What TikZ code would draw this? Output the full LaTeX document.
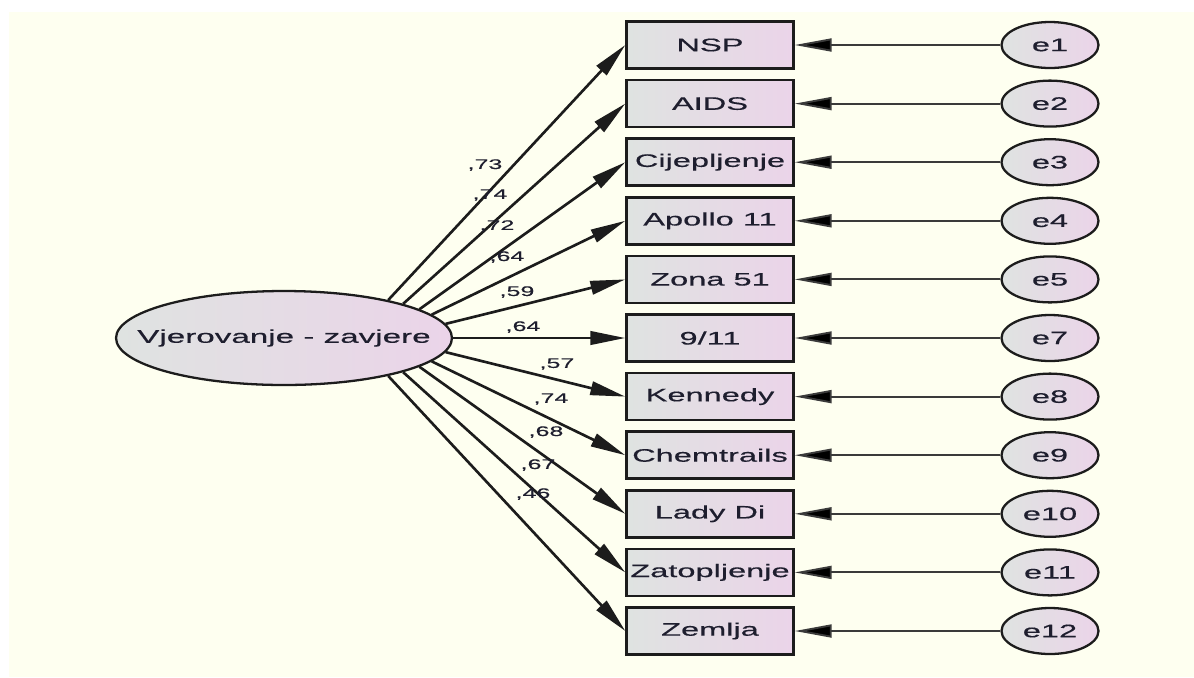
\documentclass[tikz,border=0pt]{standalone}
\usepackage{fontspec}
\setmainfont{Liberation Sans}
\newfontfamily\widefont[FakeStretch=1.8,FakeBold=0.4]{Liberation Sans}
\usetikzlibrary{arrows.meta,shapes.geometric}
\definecolor{bgcream}{HTML}{FEFFF0}
\definecolor{fillL}{HTML}{DFE3E1}
\definecolor{fillR}{HTML}{EBD4E9}
\definecolor{edgecol}{HTML}{1C1C1C}
\definecolor{linecol}{HTML}{3A3A3A}
\definecolor{txtcol}{HTML}{1E1E2E}
\begin{document}
\begin{tikzpicture}[x=0.02cm,y=-0.02cm,
  obs/.style={rectangle,draw=edgecol,line width=1.4pt,left color=fillL,right color=fillR,
    minimum width=3.34cm,minimum height=0.94cm,inner sep=0pt,text=txtcol,
    font=\widefont\fontsize{10.3}{12}\selectfont},
  lat/.style={ellipse,draw=edgecol,line width=1.3pt,left color=fillL,right color=fillR,
    minimum width=6.72cm,minimum height=1.88cm,inner sep=0pt,text=txtcol,
    font=\widefont\fontsize{10.5}{12}\selectfont},
  err/.style={ellipse,draw=edgecol,line width=1.3pt,left color=fillL,right color=fillR,
    minimum width=1.94cm,minimum height=0.92cm,inner sep=0pt,text=txtcol,
    font=\widefont\fontsize{10.3}{12}\selectfont},
  load/.style={draw=edgecol,line width=1.5pt,-{Triangle[length=0.7cm,width=0.27cm]}},
  epath/.style={draw=linecol,line width=1.1pt,-{Triangle[length=0.74cm,width=0.26cm,fill=black]}},
  lbl/.style={inner sep=0pt,text=txtcol,font=\widefont\fontsize{7.9}{9}\selectfont}
]
\useasboundingbox (0,0) rectangle (1194,677);
\fill[white] (0,0) rectangle (1194,677);
\fill[bgcream] (9,12) rectangle (1194,677);

\node[lat] (F) at (284,338) {\makebox[0pt]{Vjerovanje - zavjere}};

\node[obs] (b1)  at (710,45)    {NSP};
\node[obs] (b2)  at (710,103.6) {AIDS};
\node[obs] (b3)  at (710,162.2) {Cijepljenje};
\node[obs] (b4)  at (710,220.8) {Apollo 11};
\node[obs] (b5)  at (710,279.4) {Zona 51};
\node[obs] (b6)  at (710,338)   {9/11};
\node[obs] (b7)  at (710,396.6) {Kennedy};
\node[obs] (b8)  at (710,455.2) {Chemtrails};
\node[obs] (b9)  at (710,513.8) {Lady Di};
\node[obs] (b10) at (710,572.4) {\makebox[0pt]{Zatopljenje}};
\node[obs] (b11) at (710,631)   {Zemlja};

\node[err] (e1)  at (1050,45)    {e1};
\node[err] (e2)  at (1050,103.6) {e2};
\node[err] (e3)  at (1050,162.2) {e3};
\node[err] (e4)  at (1050,220.8) {e4};
\node[err] (e5)  at (1050,279.4) {e5};
\node[err] (e7)  at (1050,338)   {e7};
\node[err] (e8)  at (1050,396.6) {e8};
\node[err] (e9)  at (1050,455.2) {e9};
\node[err] (e10) at (1050,513.8) {\makebox[0pt]{e10}};
\node[err] (e11) at (1050,572.4) {\makebox[0pt]{e11}};
\node[err] (e12) at (1050,631)   {\makebox[0pt]{e12}};

\draw[load] (F.20)   -- (b1.west);
\draw[load] (F.16.5) -- (b2.west);
\draw[load] (F.12.7) -- (b3.west);
\draw[load] (F.9.5)  -- (b4.west);
\draw[load] (F.5.2)  -- (b5.west);
\draw[load] (F.0)    -- (b6.west);
\draw[load] (F.-5.2) -- (b7.west);
\draw[load] (F.-9.5) -- (b8.west);
\draw[load] (F.-12.7)-- (b9.west);
\draw[load] (F.-16.5)-- (b10.west);
\draw[load] (F.-20)  -- (b11.west);

\draw[epath] (e1.west)  -- (b1.east);
\draw[epath] (e2.west)  -- (b2.east);
\draw[epath] (e3.west)  -- (b3.east);
\draw[epath] (e4.west)  -- (b4.east);
\draw[epath] (e5.west)  -- (b5.east);
\draw[epath] (e7.west)  -- (b6.east);
\draw[epath] (e8.west)  -- (b7.east);
\draw[epath] (e9.west)  -- (b8.east);
\draw[epath] (e10.west) -- (b9.east);
\draw[epath] (e11.west) -- (b10.east);
\draw[epath] (e12.west) -- (b11.east);

\node[lbl] (l1)  at (485,165) {,73};
\node[lbl] (l2)  at (490,195) {,74};
\node[lbl] (l3)  at (497,226) {,72};
\node[lbl] (l4)  at (507,257) {,64};
\node[lbl] (l5)  at (517,292) {,59};
\node[lbl] (l6)  at (523,327) {,64};
\node[lbl] (l7)  at (557,364) {,57};
\node[lbl] (l8)  at (551,399) {,74};
\node[lbl] (l9)  at (546,432) {,68};
\node[lbl] (l10) at (538,465) {,67};
\node[lbl] (l11) at (533,494) {,46};
\end{tikzpicture}
\end{document}
